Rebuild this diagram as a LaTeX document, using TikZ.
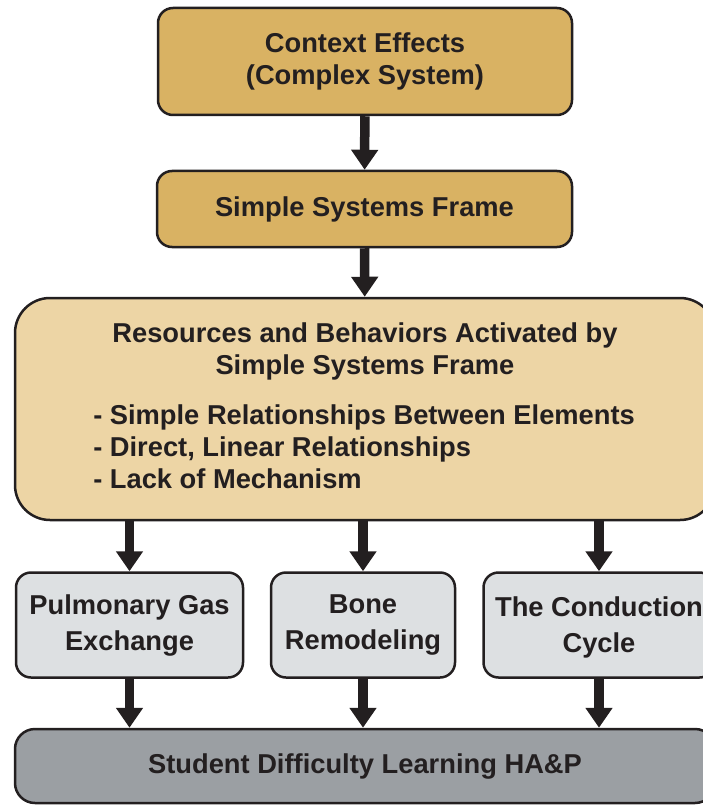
\documentclass[tikz,border=0pt]{standalone}
\usepackage{fontspec}
\setmainfont{Liberation Sans}
\usetikzlibrary{arrows.meta}
\definecolor{framegold}{HTML}{D9B263}
\definecolor{resgold}{HTML}{EDD5A5}
\definecolor{topicgray}{HTML}{DDE0E2}
\definecolor{outgray}{HTML}{9B9FA3}
\definecolor{inkline}{HTML}{231F20}
\begin{document}
\begin{tikzpicture}[x=1pt,y=-1pt,
    box/.style={draw=inkline,line width=2.5pt,rounded corners=15pt,align=center,
        font=\fontsize{27.3}{32}\selectfont\bfseries,text=inkline,inner sep=0pt},
    topic/.style={box,fill=topicgray,minimum height=105pt,font=\fontsize{27.3}{36}\selectfont\bfseries},
    arr/.style={draw=inkline,line width=9.5pt,-{Triangle[width=26pt,length=20pt]}}]
    \useasboundingbox (0,0) rectangle (703,805);
    \clip (0,0) rectangle (703,805);

    % top chain
    \node[box,fill=framegold,minimum width=414pt,minimum height=107pt] (ctx) at (365,61.5)
        {Context Effects\\(Complex System)};
    \node[box,fill=framegold,minimum width=415pt,minimum height=76pt] (frame) at (364.5,209)
        {Simple Systems Frame};

    % activated resources
    \node[box,fill=resgold,rounded corners=35pt,minimum width=700pt,minimum height=222pt] (res) at (365,409) {};
    \node[box,draw=none,fill=none] (restitle) at (365,351)
        {Resources and Behaviors Activated by\\Simple Systems Frame};
    \node[box,draw=none,fill=none,align=left,anchor=west] (reslist) at (92,447)
        {- Simple Relationships Between Elements\\- Direct, Linear Relationships\\- Lack of Mechanism};

    % topics
    \node[topic,minimum width=227pt] (pge) at (129.5,625) {Pulmonary Gas\\Exchange};
    \node[topic,minimum width=184pt] (bone) at (363,625) {Bone\\Remodeling};
    \node[topic,minimum width=231pt] (cond) at (599,625) {\strut The Conduction\\Cycle};

    % outcome
    \node[box,fill=outgray,rounded corners=20pt,minimum width=700pt,minimum height=74pt] (out) at (365,766)
        {Student Difficulty Learning HA\&P};

    % arrows
    \draw[arr] (ctx) -- (frame);
    \draw[arr] (frame) -- (res);
    \draw[arr] (res.south -| pge.north) -- (pge.north);
    \draw[arr] (res.south -| bone.north) -- (bone.north);
    \draw[arr] (res.south -| cond.north) -- (cond.north);
    \draw[arr] (pge) -- (out.north -| pge.south);
    \draw[arr] (bone) -- (out.north -| bone.south);
    \draw[arr] (cond) -- (out.north -| cond.south);
\end{tikzpicture}
\end{document}
